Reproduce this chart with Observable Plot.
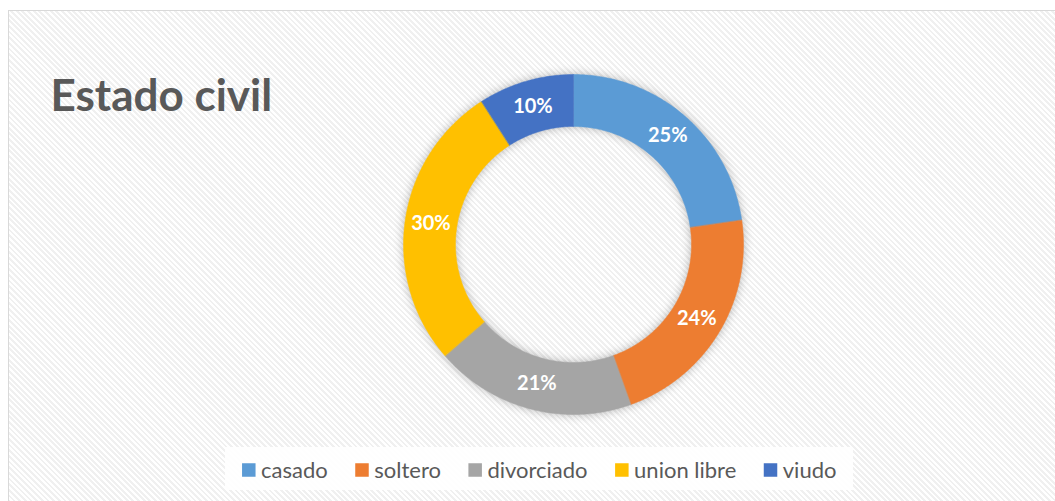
<!DOCTYPE html>
<html>
<head>
<meta charset="utf-8">
<script src="https://cdn.jsdelivr.net/npm/d3@7"></script>
<script src="https://cdn.jsdelivr.net/npm/@observablehq/plot@0.6"></script>
<style>
  html, body { margin: 0; padding: 0; background: #fff; }
  #wrap { position: relative; width: 1055px; height: 501px; overflow: hidden; }
  #frame {
    position: absolute; left: 8px; top: 10px; width: 1060px; height: 500px;
    border: 1px solid #d9d9d9;
    background: repeating-linear-gradient(45deg, #ffffff 0px, #ffffff 2px, #f0f0f0 2px, #f0f0f0 4px);
  }
  #chart { position: absolute; left: 0; top: 0; }
  #chart svg { background: transparent !important; }
</style>
</head>
<body>
<div id="wrap"><div id="frame"></div><div id="chart"></div></div>
<script>
// ---- data ----
const categories = ["casado", "soltero", "divorciado", "union libre", "viudo"];
const values = [25, 24, 21, 30, 10];
const colors = ["#5B9BD5", "#ED7D31", "#A5A5A5", "#FFC000", "#4472C4"];
const title = "Estado civil";

// ---- layout ----
const W = 1055, H = 501;
const cx = 573, cy = 244, rOuter = 170, rInner = 118;
const font = "Lato, 'Open Sans', sans-serif";

const total = d3.sum(values);
let acc = 0;
const slices = categories.map((c, i) => {
  const a0 = acc / total * 2 * Math.PI;
  acc += values[i];
  const a1 = acc / total * 2 * Math.PI;
  return {category: c, value: values[i], a0, a1};
});

// polygon points along arcs
const ring = [];
for (const s of slices) {
  const n = Math.max(8, Math.ceil((s.a1 - s.a0) / 0.01));
  for (let k = 0; k <= n; k++) {
    const a = s.a0 + (s.a1 - s.a0) * k / n;
    ring.push({category: s.category, x: cx + rOuter * Math.sin(a), y: cy - rOuter * Math.cos(a)});
  }
  for (let k = n; k >= 0; k--) {
    const a = s.a0 + (s.a1 - s.a0) * k / n;
    ring.push({category: s.category, x: cx + rInner * Math.sin(a), y: cy - rInner * Math.cos(a)});
  }
}
const rMid = (rOuter + rInner) / 2;
const labels = slices.map(s => {
  const a = (s.a0 + s.a1) / 2;
  return {category: s.category, text: s.value + "%", x: cx + rMid * Math.sin(a), y: cy - rMid * Math.cos(a)};
});

// legend layout from measured text widths
const legendFontSize = 22;
const ctx = document.createElement("canvas").getContext("2d");
ctx.font = `${legendFontSize}px Lato`;
const sw = 13.5, swGap = 5, itemGap = 28;
const widths = categories.map(c => ctx.measureText(c).width);
const legendTotal = d3.sum(widths) + categories.length * (sw + swGap) + (categories.length - 1) * itemGap;
const legendCenter = 539;
let lx = legendCenter - legendTotal / 2;
const legendY = 470;
const legend = categories.map((c, i) => {
  const item = {category: c, sx: lx, tx: lx + sw + swGap};
  lx += sw + swGap + widths[i] + itemGap;
  return item;
});
const boxPad = 17;
const legendBox = [{x1: legend[0].sx - boxPad, x2: lx - itemGap + boxPad, y1: 447, y2: 490}];

const plot = Plot.plot({
  width: W, height: H,
  margin: 0,
  style: {background: "transparent", fontFamily: font},
  x: {domain: [0, W], range: [0, W], axis: null},
  y: {domain: [0, H], range: [0, H], axis: null},
  color: {domain: categories, range: colors},
  marks: [
    Plot.line(ring, {x: "x", y: "y", z: "category", fill: "category", stroke: "category", strokeWidth: 0.5, curve: "linear-closed"}),
    Plot.text(labels, {x: "x", y: "y", text: "text", fill: "white", fontWeight: "bold", fontSize: 20, fontFamily: font}),
    Plot.text([title], {frameAnchor: "top-left", dx: 50, dy: 96, text: d => d, textAnchor: "start", lineAnchor: "middle", fill: "#595959", fontWeight: "bold", fontSize: 44, fontFamily: font}),
    Plot.rect(legendBox, {x1: "x1", x2: "x2", y1: "y1", y2: "y2", fill: "white", fillOpacity: 0.92}),
    Plot.rect(legend, {x1: "sx", x2: d => d.sx + sw, y1: legendY - sw / 2, y2: legendY + sw / 2, fill: "category"}),
    Plot.text(legend, {x: "tx", y: legendY, text: "category", textAnchor: "start", fill: "#595959", fontSize: legendFontSize, fontFamily: font})
  ]
});
document.getElementById("chart").appendChild(plot);
const g = plot.querySelector('g[aria-label="line"]');
if (g) g.style.filter = "drop-shadow(0px 0px 5px rgba(0,0,0,0.28))";
</script>
</body>
</html>
